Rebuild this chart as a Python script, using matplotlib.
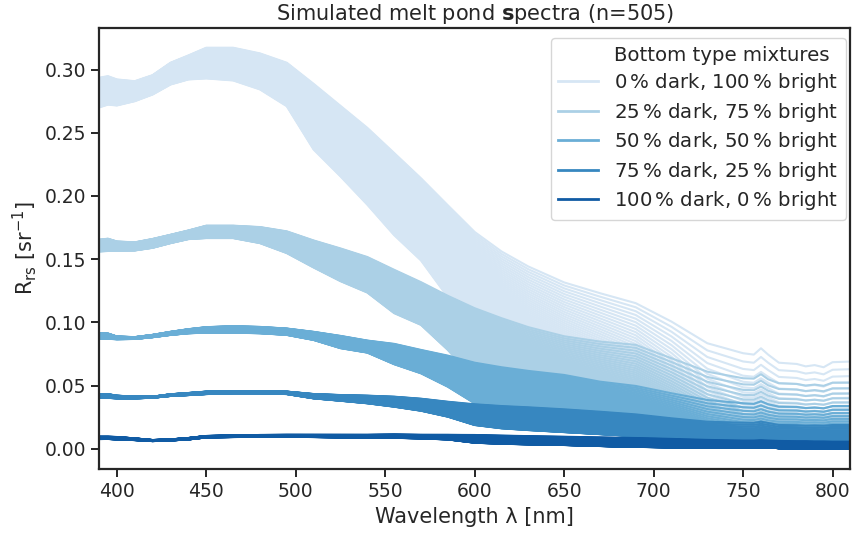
import numpy as np
import matplotlib
matplotlib.use("Agg")
import matplotlib.pyplot as plt
from matplotlib.lines import Line2D

wavelength = [390, 395, 400, 410, 420, 430, 440, 450, 465, 480, 495, 510, 525, 540,
              555, 570, 585, 600, 615, 630, 650, 670, 690, 710, 730, 750, 756, 760,
              764, 770, 780, 785, 790, 795, 800, 810]

# shallowest (upper) and deepest (lower) spectrum of each bottom mixture
upper_0 = [.2935, .2948, .2922, .2908, .2956, .3054, .3112, .3173, .3173, .3128, .3054, .2887,
           .2713, .2539, .2340, .2140, .1926, .1715, .1561, .1442, .1316, .1231, .1152, .1006,
           .0835, .0756, .0745, .0795, .0745, .0681, .0671, .0652, .0662, .0645, .0685, .0690]
lower_0 = [.2700, .2723, .2716, .2750, .2803, .2882, .2922, .2930, .2914, .2843, .2710, .2367,
           .2155, .1931, .1690, .1490, .1200, .0850, .0650, .0500, .0380, .0300, .0240, .0170,
           .0100, .0070, .0070, .0075, .0070, .0060, .0060, .0055, .0055, .0055, .0055, .0055]

upper_25 = [.1654, .1662, .1640, .1633, .1660, .1693, .1727, .1765, .1765, .1754, .1720, .1648,
            .1585, .1517, .1416, .1318, .1210, .1112, .1033, .0962, .0890, .0848, .0822, .0716,
            .0610, .0558, .0555, .0590, .0550, .0518, .0513, .0500, .0508, .0498, .0523, .0523]
lower_25 = [.1561, .1565, .1567, .1569, .1590, .1627, .1659, .1667, .1667, .1627, .1548, .1434,
            .1326, .1236, .1073, .0980, .0782, .0550, .0420, .0330, .0250, .0200, .0160, .0110,
            .0070, .0050, .0050, .0052, .0050, .0045, .0045, .0045, .0045, .0045, .0045, .0045]

upper_50 = [.0914, .0912, .0888, .0883, .0901, .0925, .0946, .0962, .0970, .0964, .0951, .0925,
            .0893, .0856, .0830, .0782, .0737, .0681, .0645, .0616, .0584, .0531, .0497, .0439,
            .0386, .0360, .0355, .0375, .0352, .0333, .0331, .0322, .0326, .0320, .0338, .0338]
lower_50 = [.0869, .0870, .0867, .0869, .0883, .0901, .0914, .0919, .0919, .0914, .0901, .0861,
            .0796, .0761, .0669, .0597, .0491, .0360, .0270, .0210, .0160, .0130, .0100, .0070,
            .0050, .0030, .0030, .0031, .0030, .0030, .0030, .0030, .0030, .0030, .0030, .0030]

upper_75 = [.0433, .0432, .0420, .0412, .0412, .0431, .0441, .0452, .0455, .0455, .0452, .0433,
            .0425, .0420, .0412, .0396, .0372, .0352, .0338, .0328, .0312, .0293, .0272, .0241,
            .0214, .0206, .0205, .0214, .0204, .0188, .0186, .0182, .0184, .0182, .0188, .0188]
lower_75 = [.0404, .0403, .0399, .0399, .0404, .0418, .0425, .0433, .0439, .0439, .0433, .0399,
            .0380, .0360, .0333, .0301, .0254, .0188, .0162, .0148, .0132, .0116, .0100, .0080,
            .0060, .0040, .0040, .0041, .0040, .0030, .0030, .0030, .0030, .0030, .0030, .0030]

upper_100 = [.0095, .0095, .0093, .0082, .0069, .0074, .0085, .0101, .0105, .0109, .0110, .0110,
             .0110, .0110, .0112, .0110, .0110, .0109, .0104, .0100, .0095, .0090, .0085, .0078,
             .0070, .0065, .0065, .0068, .0065, .0062, .0060, .0060, .0058, .0058, .0056, .0056]
lower_100 = [.0077, .0078, .0074, .0069, .0061, .0066, .0074, .0090, .0093, .0095, .0095, .0093,
             .0090, .0088, .0087, .0082, .0074, .0048, .0040, .0035, .0030, .0022, .0015, .0012,
             .0010, .0008, .0008, .0008, .0008, .0006, .0005, .0005, .0004, .0004, .0003, .0003]

# how strongly the 101 depth steps bunch towards the deep end (water attenuation)
spread = [0.3, 0.3, 0.3, 0.3, 0.3, 0.3, 0.3, 0.3, 0.3, 0.3, 0.3, 0.4, 0.5, 0.6, 0.7, 0.8,
          1.0, 1.5, 1.8, 2.0, 2.3, 2.8, 3.5, 5.0, 8.0, 10., 10., 10., 10., 10., 10., 10.,
          10., 10., 10., 10.]

labels = [r"0$\,$% dark, 100$\,$% bright",
          r"25$\,$% dark, 75$\,$% bright",
          r"50$\,$% dark, 50$\,$% bright",
          r"75$\,$% dark, 25$\,$% bright",
          r"100$\,$% dark, 0$\,$% bright"]
n_depths = 101


def depth_stack(upper, lower, k, n=n_depths):
    upper, lower, k = np.asarray(upper), np.asarray(lower), np.asarray(k)
    t = np.linspace(0, 1, n)[:, None]
    w = (np.exp(-k * t) - np.exp(-k)) / (1 - np.exp(-k))
    return lower + (upper - lower) * w


edge = "#262626"
plt.rcParams.update({
    "axes.edgecolor": edge, "axes.linewidth": 1.6,
    "xtick.color": edge, "ytick.color": edge,
    "xtick.major.width": 1.4, "ytick.major.width": 1.4,
    "xtick.major.size": 6, "ytick.major.size": 6,
    "xtick.labelsize": 13.5, "ytick.labelsize": 13.5,
    "text.color": edge, "axes.labelcolor": edge,
})

fig, ax = plt.subplots(figsize=(8.53, 5.36), dpi=100)
fig.subplots_adjust(left=0.116, right=0.997, bottom=0.125, top=0.948)

colors = plt.get_cmap("Blues")(np.linspace(0, 1, 7)[1:-1])
groups = [(upper_0, lower_0), (upper_25, lower_25), (upper_50, lower_50),
          (upper_75, lower_75), (upper_100, lower_100)]

for (up, lo), c in zip(groups, colors):
    spectra = depth_stack(up, lo, spread)
    ax.plot(wavelength, spectra.T, color=c, lw=1.5)

ax.set_xlim(390, 810)
ax.set_ylim(-0.016, 0.333)
ax.set_xticks(np.arange(400, 801, 50))
ax.set_yticks(np.arange(0, 0.31, 0.05))
ax.yaxis.set_major_formatter(plt.FormatStrFormatter("%.2f"))

ax.set_xlabel("Wavelength λ [nm]", fontsize=15)
ax.set_ylabel(r"R$_\mathrm{rs}$ [sr$^{-1}$]", fontsize=15)
ax.set_title(r"Simulated melt pond $\mathbf{s}$pectra (n=505)", fontsize=15)

# seaborn-style legend: title sits in the first row without a handle
handles = [Line2D([], [], color="none")]
handles += [Line2D([], [], color=c, lw=2) for c in colors]
ax.legend(handles, ["Bottom type mixtures"] + labels, loc="upper right",
          bbox_to_anchor=(1.0066, 1.0), fontsize=14.2, handlelength=2.0,
          labelspacing=0.33, framealpha=0.8, edgecolor="#cccccc")

fig.savefig("out.png", dpi=100)
